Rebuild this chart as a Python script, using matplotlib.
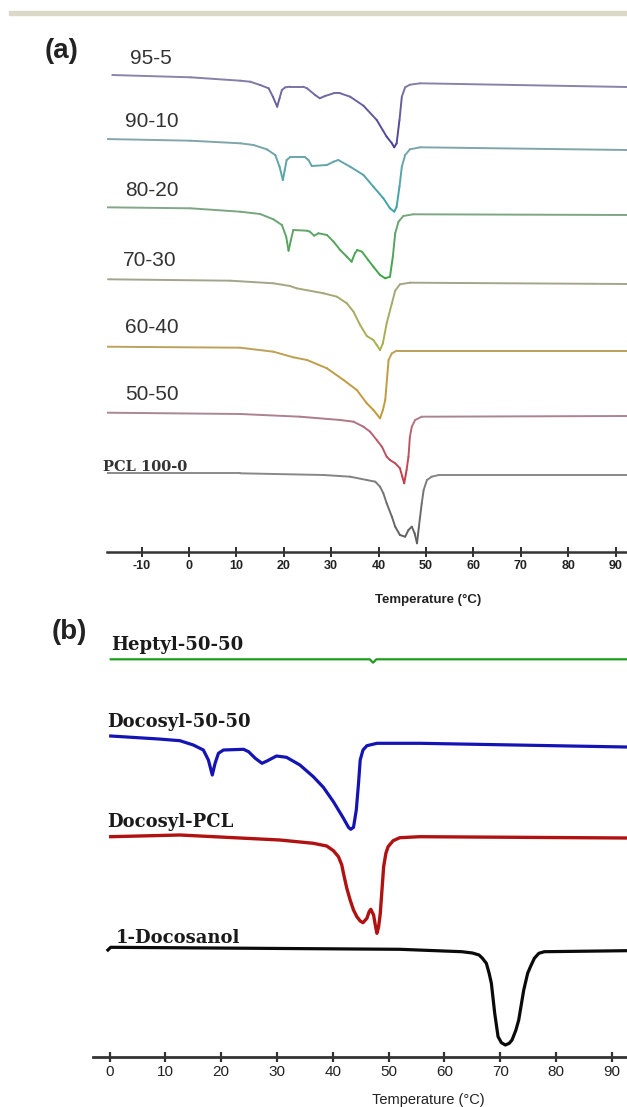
import numpy as np
import matplotlib
matplotlib.use('Agg')
import matplotlib.pyplot as plt
from matplotlib.collections import LineCollection
from matplotlib.colors import to_rgb
from matplotlib.patches import Rectangle

plt.rcParams['axes.unicode_minus'] = False

# ---- panel (a): PCL / docosyl blends, stacked DSC curves (heat flow, a.u.)
labels_a = ['95-5', '90-10', '80-20', '70-30', '60-40', '50-50', 'PCL 100-0']

t_95 = [-16.2, 0.3, 10.8, 12.9, 15.0, 16.8, 17.7, 18.6, 19.1, 19.6, 20.3, 21.3, 24.1, 24.9, 26.6, 27.6, 28.7,
        30.5, 31.9, 34.0, 36.8, 39.6, 41.7, 42.8, 43.3, 43.8, 44.4, 44.9, 45.6, 46.6, 48.8, 92.4]
h_95 = [477, 474.7, 471.3, 470.3, 467, 463.7, 455.3, 445.3, 453.7, 462, 464.7, 465.3, 465.3, 463.7, 457, 453.7, 456,
        458.7, 458.7, 455.3, 446.3, 432, 415.3, 408.7, 404.7, 408.7, 432, 455.3, 464.7, 467.3, 468.7, 465]

t_90 = [-17.7, 0.3, 10.8, 13.6, 16.4, 18.2, 19.1, 19.8, 20.2, 20.6, 21.3, 24.5, 25.2, 25.9, 29.1, 30.5, 31.5,
        34.0, 36.8, 38.9, 41.0, 42.4, 43.3, 43.8, 44.4, 44.9, 45.6, 46.6, 48.8, 92.4]
h_90 = [413, 411.3, 408.7, 407, 402.7, 397, 385.3, 372, 382, 392, 394.7, 394.7, 392, 386, 387, 390.3, 392,
        385.3, 377, 365.3, 353.7, 343.7, 340.3, 345.3, 365.3, 385.3, 397, 402.7, 404.7, 402]

t_80 = [-17.7, 0.3, 10.8, 15.0, 17.8, 19.6, 20.5, 21.0, 21.5, 22.0, 24.9, 25.5, 26.4, 27.3, 29.1, 30.5, 31.9,
        33.3, 34.3, 35.0, 35.5, 36.5, 37.8, 38.9, 40.3, 41.4, 42.4, 43.0, 43.5, 44.2, 45.2, 47.3, 92.4]
h_80 = [344.7, 343.7, 340.3, 338, 332.7, 327, 315.3, 301.3, 312, 322, 321.3, 320.3, 316.3, 318.7, 317, 310.3, 302,
        295.3, 290.3, 298.7, 302, 300.3, 292, 285.3, 277, 273.7, 275.3, 295.3, 318.7, 330.3, 336, 337.7, 337]

t_70 = [-17.1, 8.7, 17.8, 21.3, 22.7, 28.4, 31.2, 33.3, 34.7, 36.1, 37.5, 38.9, 39.6, 40.3, 40.9, 41.7, 42.8,
        43.5, 44.5, 46.6, 92.4]
h_70 = [272.7, 271.3, 268.7, 266, 263.7, 258.7, 255.3, 248.7, 240.3, 227, 216, 212, 207, 202, 208.7, 228.7, 248.7,
        261.3, 267.7, 269.3, 268]

t_60 = [-17.7, 10.8, 17.8, 22.0, 24.9, 29.1, 32.6, 35.4, 37.5, 38.9, 40.3, 40.9, 41.4, 42.1, 42.8, 43.8, 92.4]
h_60 = [205.3, 204.3, 200.3, 194.7, 192, 183.7, 172, 162, 148.7, 142, 133.7, 142, 152, 192, 198.7, 201.3, 201.3]

t_50 = [-17.3, 10.8, 23.4, 31.9, 34.7, 36.8, 38.2, 39.6, 40.7, 41.7, 42.4, 43.5, 44.5, 45.0, 45.4, 45.9, 46.3,
        46.6, 47.0, 47.7, 49.1, 92.4]
h_50 = [139.3, 138, 135.3, 132, 130.3, 125.3, 120.3, 112, 105.3, 95.3, 92, 88.7, 83.7, 75.3, 68.7, 82, 95.3,
        115.3, 125.3, 132, 135.3, 136]

t_pcl = [-17.3, 10.8, 28.4, 34.0, 37.5, 39.3, 40.3, 41.0, 41.7, 42.8, 43.5, 44.5, 45.6, 46.3, 47.0, 47.6, 48.1,
         48.5, 49.1, 49.5, 50.2, 51.2, 52.7, 92.4]
h_pcl = [78.7, 78.7, 77, 75.3, 72, 70.3, 65.3, 58.7, 48.7, 35.3, 25.3, 17, 15.3, 22, 25.3, 18.7, 8.7,
         25.3, 48.7, 62, 72, 75.3, 77, 77]

# ---- panel (b)
labels_b = ['Heptyl-50-50', 'Docosyl-50-50', 'Docosyl-PCL', '1-Docosanol']

t_hep = [0.2, 46.6, 47.2, 47.8, 92.5]
h_hep = [397.7, 397.7, 394.3, 397.7, 397.7]

t_doc50 = [0.2, 8.8, 12.6, 15.0, 16.8, 17.7, 18.4, 18.9, 19.5, 20.4, 24.0, 24.9, 26.1, 27.3, 28.2, 29.9, 31.7,
           34.1, 36.5, 38.3, 40.1, 41.9, 42.8, 43.2, 43.7, 44.2, 44.6, 44.9, 45.4, 46.1, 47.9, 55.6, 92.5]
h_doc50 = [321, 318, 316.3, 312, 307, 297, 282, 293.7, 303.7, 307, 307.7, 305.3, 298.7, 293.7, 296, 301, 299.7,
           292, 280.3, 269.7, 255.3, 238.7, 229.7, 227.7, 229.7, 247, 273.7, 297, 307, 311.3, 313.7, 313.7, 310]

t_docpcl = [0.2, 12.6, 30.5, 36.5, 38.9, 40.1, 41.0, 41.6, 41.9, 42.5, 43.1, 43.7, 44.3, 44.9, 45.4, 46.1, 46.5,
            46.8, 47.3, 47.6, 47.9, 48.2, 48.5, 48.8, 49.1, 49.5, 49.9, 50.8, 52.0, 55.6, 92.5]
h_docpcl = [220.3, 222, 217, 213.7, 211, 206.3, 200.3, 192, 183.7, 168.7, 157, 147, 140.3, 136, 134.3, 138.7, 145.3,
            147.7, 142, 132, 123.7, 130.3, 143.7, 167, 190.3, 203.7, 210.3, 216.3, 219.3, 220.3, 219]

t_docosanol = [-0.3, 0.2, 52, 63.1, 65.0, 66.2, 66.8, 67.5, 68.0, 68.4, 69.0, 69.6, 70.2, 70.9, 71.6, 72.1, 72.8,
               73.3, 74.2, 74.9, 75.4, 76.1, 76.9, 77.9, 92.5]
h_docosanol = [107, 109.7, 107.7, 105.3, 104, 102, 98.7, 93.7, 83.7, 73.7, 43.7, 20.3, 14.3, 12, 13.7, 17, 27,
               37, 67, 83.7, 90.3, 98.7, 103.7, 105.3, 106.3]

ticks_a = list(range(-10, 91, 10))
ticks_b = list(range(0, 91, 10))

W, H = 627, 1107
fig = plt.figure(figsize=(W / 100, H / 100), dpi=100)
fig.patches.append(Rectangle((9 / W, 1 - 15 / H), 1, 4 / H, transform=fig.transFigure,
                             color='#dcd8c8', zorder=0))


def gradient_line(ax, t, h, c_base, c_peak, lw):
    # colour shifts from a greyish tone on the baseline to the full tone in the peaks
    t = np.asarray(t, float)
    h = np.asarray(h, float)
    base = np.interp(t, [t[0], t[-1]], [h[0], h[-1]])
    depth = np.clip(base - h, 0, None)
    depth = depth / depth.max()
    mid = 0.5 * (depth[1:] + depth[:-1]) ** 0.6
    cb, cp = np.array(to_rgb(c_base)), np.array(to_rgb(c_peak))
    cols = cb[None, :] * (1 - mid[:, None]) + cp[None, :] * mid[:, None]
    pts = np.column_stack([t, h]).reshape(-1, 1, 2)
    segs = np.concatenate([pts[:-1], pts[1:]], axis=1)
    lc = LineCollection(segs, colors=cols, linewidths=lw, capstyle='round', joinstyle='round')
    ax.add_collection(lc)


def style_axis(ax, ticks, lw, fs, weight):
    for s in ['top', 'left', 'right']:
        ax.spines[s].set_visible(False)
    ax.spines['bottom'].set_linewidth(lw)
    ax.spines['bottom'].set_color('#333333')
    ax.set_yticks([])
    ax.set_xticks(ticks)
    ax.tick_params(axis='x', direction='inout', length=7, width=lw * 0.8, color='#333333',
                   labelsize=fs, labelcolor='#222222', pad=2)
    for lab in ax.get_xticklabels():
        lab.set_fontweight(weight)
        lab.set_family('Liberation Sans')
    ax.patch.set_alpha(0)


# panel (a)
ax1 = fig.add_axes([107 / W, 1 - 552 / H, 520 / W, 512 / H])
ax1.set_xlim(-17.3, 92.4)
ax1.set_ylim(0, 512)
curves_a = [(t_95, h_95, '#8c88aa', '#35278f'),
            (t_90, h_90, '#86a6aa', '#25a3a6'),
            (t_80, h_80, '#84a68a', '#2aa335'),
            (t_70, h_70, '#a4a490', '#a9b532'),
            (t_60, h_60, '#bca25c', '#c4962a'),
            (t_50, h_50, '#a88a98', '#d0202e'),
            (t_pcl, h_pcl, '#8a8a8a', '#505050')]
for t, h, cb, cp in curves_a:
    gradient_line(ax1, t, h, cb, cp, 1.4)

lab_a_pos = [(-12.4, 493.7), (-13.5, 430.3), (-13.5, 362), (-13.9, 292), (-13.5, 224.3), (-13.5, 157)]
for name, (x, y) in zip(labels_a[:-1], lab_a_pos):
    ax1.text(x, y, name, fontsize=15, family='Liberation Sans', color='#333333',
             ha='left', va='center')
ax1.text(-18.1, 85.3, labels_a[-1], fontsize=10.5, family='DejaVu Serif', fontweight='bold',
         color='#333333', ha='left', va='center', clip_on=False)
style_axis(ax1, ticks_a, 1.8, 9, 'bold')
ax1.set_xlabel('Temperature (°C)', fontsize=9.5, fontweight='bold', family='Liberation Sans',
               color='#222222')
ax1.xaxis.set_label_coords((428 - 107) / 520, -(594 - 552) / 512)

# panel (b)
ax2 = fig.add_axes([93.4 / W, 1 - 1057 / H, (627 - 93.4) / W, 437 / H])
ax2.set_xlim(-2.9, 92.7)
ax2.set_ylim(0, 437)
ax2.plot(t_hep, h_hep, color='#1f9d1f', lw=1.6)
ax2.plot(t_doc50, h_doc50, color='#1414b4', lw=2.3, solid_joinstyle='round')
ax2.plot(t_docpcl, h_docpcl, color='#b01212', lw=2.4, solid_joinstyle='round')
ax2.plot(t_docosanol, h_docosanol, color='#0a0a0a', lw=2.3, solid_joinstyle='round')

lab_b_pos = [(0.2, 412), (-0.4, 335.3), (-0.4, 235.3), (1.1, 118.7)]
for name, (x, y) in zip(labels_b, lab_b_pos):
    ax2.text(x, y, name, fontsize=13, family='DejaVu Serif', fontweight='bold',
             color='#1a1a1a', ha='left', va='center')
style_axis(ax2, ticks_b, 2.0, 11, 'normal')
ax2.set_xlabel('Temperature (°C)', fontsize=10.5, family='Liberation Sans', color='#222222')
ax2.xaxis.set_label_coords((428 - 93.4) / (627 - 93.4), -(1093 - 1057) / 437)

fig.text(45 / W, 1 - 51 / H, '(a)', fontsize=20, fontweight='bold', family='Liberation Sans',
         color='#222222', va='center', ha='left')
fig.text(52 / W, 1 - 632 / H, '(b)', fontsize=20, fontweight='bold', family='Liberation Sans',
         color='#222222', va='center', ha='left')

fig.savefig('out.png', dpi=100, facecolor='white')
